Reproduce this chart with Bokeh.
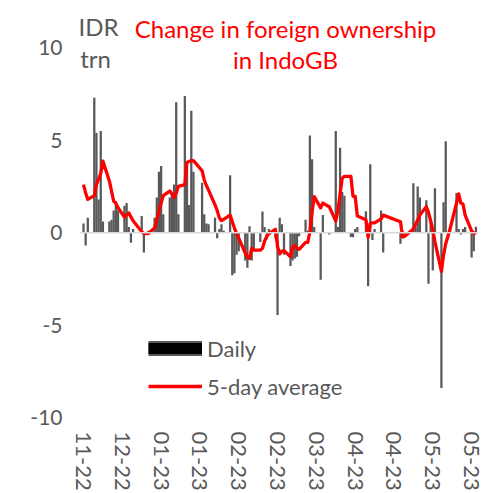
import pandas as pd
from bokeh.plotting import figure
from bokeh.models import (ColumnDataSource, FixedTicker, Span, Label, Legend,
                          LegendItem, Range1d)
from bokeh.embed import file_html
from bokeh.resources import INLINE

# ---------------- data ----------------
start_date = "2022-11-30"
end_date = "2023-05-31"
holidays = ["2022-12-26", "2023-01-23", "2023-03-22", "2023-03-23", "2023-04-07",
            "2023-04-19", "2023-04-20", "2023-04-21", "2023-04-24", "2023-04-25",
            "2023-05-01", "2023-05-18"]

# daily change in foreign ownership, IDR trn (one value per trading day)
daily = [
    0.5, -0.7, 0.8,                      # Nov 30 - Dec 2
    7.3, 5.4, 1.8, 5.5, 0.6,             # Dec 5-9
    0.6, 0.7, 1.2, 1.7, 1.2,             # Dec 12-16
    1.45, 1.6, 0.3, -0.55, 0.2,          # Dec 19-23
    0.9, -1.07, -0.1, 0.1,               # Dec 27-30
    0.8, 1.9, 3.3, 3.6, 1.0,             # Jan 2-6
    1.9, 2.1, 2.6, 7.05, 1.0,            # Jan 9-13
    7.4, 3.5, 1.5, 6.6, 3.3,             # Jan 16-20
    2.7, 1.0, 0.5, 0.45,                 # Jan 24-27
    0.8, -0.3, 0.2, 0.45, 0.1,           # Jan 30 - Feb 3
    3.1, -2.3, -2.2, -1.2, -1.0,         # Feb 6-10
    -1.5, -1.9, 0.35, -1.5, -1.0,        # Feb 13-17
    -0.5, 1.15, 0.3, -0.35, 0.2,         # Feb 20-24
    -0.3, -4.45, 0.8, 0.45, -1.2,        # Feb 27 - Mar 3
    -1.8, -1.5, -1.4, -1.3, -0.2,        # Mar 6-10
    0.7, 0.1, 5.26, 3.97, 0.3,           # Mar 13-17
    -2.55, 0.95, -0.1,                   # Mar 20, 21, 24
    5.5, 0.3, 4.6, 2.2, 2.0,             # Mar 27-31
    -0.23, -0.25, 0.2, 0.3,              # Apr 3-6
    1.16, -2.9, 3.7, -0.4, 0.2,          # Apr 10-14
    1.2, -1.07,                          # Apr 17-18
    -0.6, 0.1, -0.1,                     # Apr 26-28
    2.67, 0.3, 2.5, 1.9,                 # May 2-5
    1.75, -2.76, 0.62, -2.05, 2.4,       # May 8-12
    -8.4, 1.64, 4.94, 0.3,               # May 15, 16, 17, 19
    2.14, 0.2, -0.1, 0.2, 0.3,           # May 22-26
    -1.34, -1.0, 0.32,                   # May 29-31
]

# 5-day average, IDR trn
avg5 = [
    2.6, 2.15, 1.8,
    2.0, 2.6, 2.9, 3.2, 3.87,
    2.8, 2.25, 1.7, 1.6, 1.35,
    0.85, 0.95, 1.07, 0.85, 0.65,
    0.05, -0.05, -0.05, -0.05,
    0.25, 0.7, 1.2, 1.6, 2.0,
    2.25, 2.1, 1.9, 2.15, 2.5,
    2.6, 3.8, 3.85, 3.9, 3.9,
    3.35, 2.85, 2.55, 2.3,
    1.5, 1.2, 0.8, 0.65, 0.72,
    0.95, 0.6, 0.25, -0.05, -0.3,
    -1.1, -1.3, -1.4, -0.85, -0.95,
    -0.95, -0.85, -0.45, -0.2, -0.05,
    0.18, -0.75, -1.15, -1.0, -0.97,
    -1.3, -0.8, -0.7, -0.85, -0.9,
    -0.53, -0.53, 0.05, 1.1, 1.95,
    1.34, 1.6, 1.4,
    0.62, 1.2, 2.1, 2.95, 3.05,
    3.05, 1.96, 1.96, 0.9,
    0.7, -0.25, 0.5, 0.53, 0.53,
    0.75, 0.95,
    0.59, -0.23, -0.2,
    0.2, 0.45, 0.7, 0.95,
    1.4, 1.1, 0.65, 0.15, -0.5,
    -2.1, -1.2, -0.6, 0.2,
    1.6, 2.1, 1.6, 1.55, 0.95,
    0.1, -0.05, 0.0,
]

tick_dates = ["2022-11-30", "2022-12-18", "2023-01-05", "2023-01-23", "2023-02-10",
              "2023-02-28", "2023-03-18", "2023-04-05", "2023-04-23", "2023-05-11",
              "2023-05-29"]
tick_labels = ["11-22", "12-22", "01-23", "01-23", "02-23", "02-23", "03-23",
               "04-23", "04-23", "05-23", "05-23"]
y_ticks = [-10, -5, 0, 5, 10]
y_tick_labels = ["-10", "-5", "0", "5", "10"]

# ---------------- build ----------------
base = pd.Timestamp(start_date)
dates = pd.bdate_range(start_date, end_date, freq="C", holidays=holidays)
assert len(dates) == len(daily) == len(avg5), (len(dates), len(daily), len(avg5))
xday = [(d - base).days for d in dates]
tick_x = [(pd.Timestamp(t) - base).days for t in tick_dates]

src = ColumnDataSource(dict(x=xday, daily=daily, avg=avg5))

GREY = "#595959"
FONT = "Lato"

# frame reaches the top of the canvas so the title texts sit inside it
p = figure(width=491, height=493, output_backend="svg", toolbar_location=None,
           x_range=Range1d(-1.855, 183.2), y_range=Range1d(-10, 12.56),
           min_border_left=79, min_border_right=13, min_border_top=0,
           min_border_bottom=70)
p.outline_line_alpha = 0
p.xgrid.visible = False
p.ygrid.visible = False
p.background_fill_color = "white"
p.border_fill_color = "white"

p.vbar(x="x", top="daily", bottom=0, width=1.05, source=src,
       fill_color=GREY, line_alpha=0)
p.add_layout(Span(location=0, dimension="width", line_color="#d9d9d9",
                  line_width=1.5))
avg_r = p.line("x", "avg", source=src, line_color="#ff0000", line_width=3.3,
               line_join="round")

# axes
p.yaxis.ticker = FixedTicker(ticks=y_ticks)
p.yaxis.major_label_overrides = {t: l for t, l in zip(y_ticks, y_tick_labels)}
p.yaxis.axis_line_alpha = 0
p.yaxis.major_tick_line_alpha = 0
p.yaxis.minor_tick_line_alpha = 0
p.yaxis.major_tick_out = 0
p.yaxis.major_label_standoff = 17
p.yaxis.major_label_text_font = FONT
p.yaxis.major_label_text_font_size = "21px"
p.yaxis.major_label_text_color = GREY

p.xaxis.ticker = FixedTicker(ticks=tick_x)
p.xaxis.major_label_overrides = {t: l for t, l in zip(tick_x, tick_labels)}
p.xaxis.major_label_orientation = "vertical"
p.xaxis.axis_line_alpha = 0
p.xaxis.major_tick_line_alpha = 0
p.xaxis.minor_tick_line_alpha = 0
p.xaxis.major_tick_out = 0
p.xaxis.major_label_standoff = 14
p.xaxis.major_label_text_font = FONT
p.xaxis.major_label_text_font_size = "22px"
p.xaxis.major_label_text_color = GREY

# legend (Daily swatch: black box with grey rim)
nan = float("nan")
dummy = ColumnDataSource(dict(x=[nan], y=[nan]))
sw_outer = p.line("x", "y", source=dummy, line_color=GREY, line_width=15)
sw_inner = p.line("x", "y", source=dummy, line_color="black", line_width=11)
legend = Legend(items=[LegendItem(label="Daily", renderers=[sw_outer, sw_inner]),
                       LegendItem(label="5-day average", renderers=[avg_r])],
                location=(69, 17), glyph_width=54, glyph_height=28,
                label_height=28, spacing=10, padding=0, margin=0,
                border_line_alpha=0, background_fill_alpha=0, label_standoff=5,
                label_text_font=FONT, label_text_font_size="22px",
                label_text_color=GREY)
p.add_layout(legend)

# titles / unit (screen offsets from the frame's bottom-left corner)
for txt, x, y, col in [("Change in foreign ownership", 206, 389, "#ff0000"),
                       ("in IndoGB", 206, 358, "#ff0000"),
                       ("IDR", 19, 391, GREY),
                       ("trn", 16, 359, GREY)]:
    p.add_layout(Label(x=x, y=y, x_units="screen", y_units="screen", text=txt,
                       text_align="center", text_baseline="alphabetic",
                       text_font=FONT, text_font_size="24px", text_color=col))

open("out.html", "w").write(file_html(p, INLINE))
